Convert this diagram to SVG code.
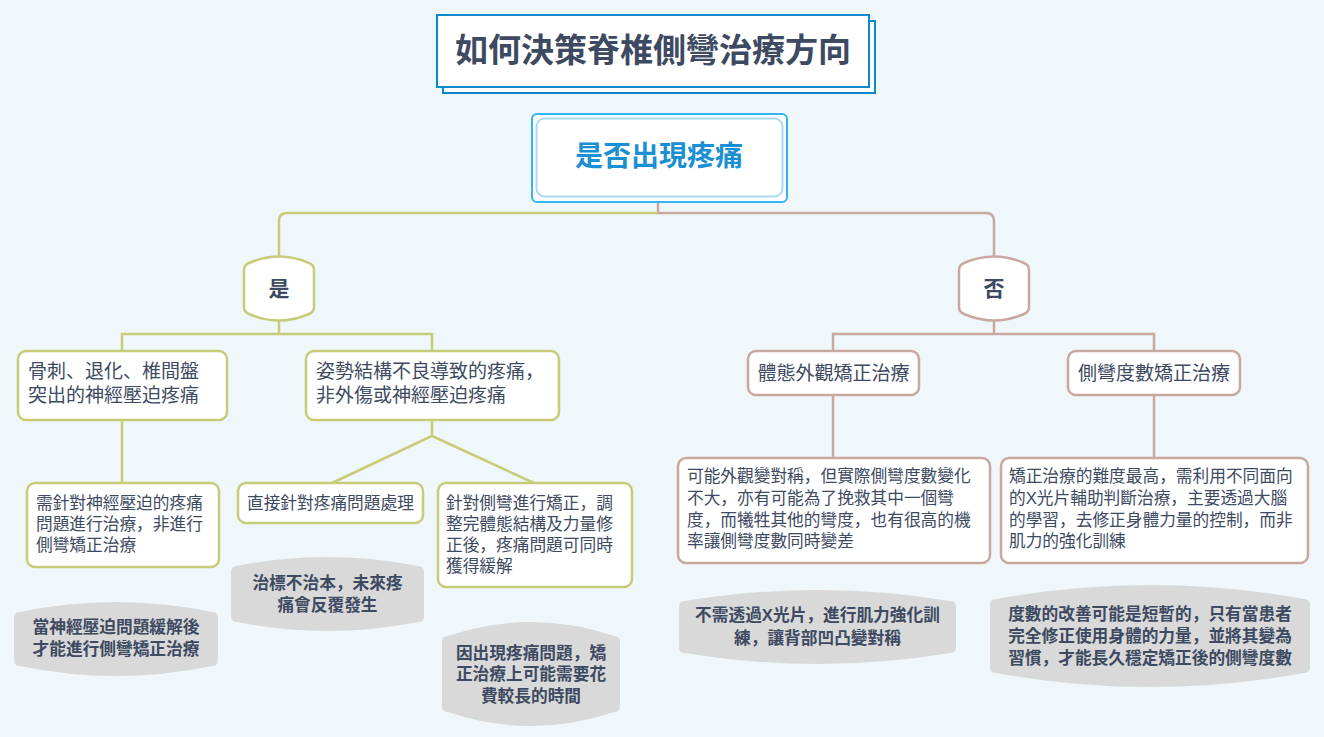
<svg xmlns="http://www.w3.org/2000/svg" width="1324" height="737" viewBox="0 0 1324 737">
<style>
text{font-family:'Liberation Sans','Noto Sans CJK JP','Noto Sans CJK TC',sans-serif;fill:#3d4a62}
.g{fill:none;stroke:#c6cc78;stroke-width:2.5}
.b{fill:none;stroke:#c9a89f;stroke-width:2.5}
.gb{fill:#fff;stroke:#c6cc78;stroke-width:2.5}
.bb{fill:#fff;stroke:#c9a89f;stroke-width:2.5}
.call{fill:#d9d9d9}
.t19{font-size:19px}
.t17{font-size:16.7px}
.cb{font-size:16.7px;font-weight:bold;text-anchor:middle}
.yn{font-size:21px;font-weight:bold;text-anchor:middle}
</style>
<rect width="1324" height="737" fill="#eff7fa"/>
<g id="connectors">
<path class="b" d="M658,202 V213 H986 Q994,213 994,221 V257"/>
<path class="g" d="M658,213 H287 Q279,213 279,221 V257"/>
<path class="g" d="M279,320 V334 M122,351 V334 H432 V351 M122,420 V483 M432,420 V436 L332,483 M432,436 L534,483"/>
<path class="b" d="M994,320 V334 M833,351 V334 H1154 V351 M833,395 V458 M1154,395 V458"/>
</g>
<g id="title">
<rect x="443" y="21" width="432" height="72" fill="#fff" stroke="#0e88d0" stroke-width="2"/>
<rect x="437" y="15" width="432" height="72" fill="#fff" stroke="#0e88d0" stroke-width="2"/>
<text x="653" y="62" font-size="33" font-weight="bold" text-anchor="middle">如何決策脊椎側彎治療方向</text>
</g>
<g id="root">
<rect x="532" y="114" width="255" height="88" rx="5" fill="#fff" stroke="#33b5ef" stroke-width="2"/>
<rect x="536.5" y="118.5" width="246" height="78" rx="8" fill="#fff" stroke="#a6daf2" stroke-width="2"/>
<text x="659" y="166" font-size="28" font-weight="bold" text-anchor="middle" style="fill:#1b8fd3">是否出現疼痛</text>
</g>
<g id="yes">
<path class="gb" d="M244,270 Q244,265 249,263 Q279,250 309,263 Q314,265 314,270 V307 Q314,312 309,314 Q279,327 249,314 Q244,312 244,307 Z"/>
<text x="279" y="296" class="yn">是</text>
</g>
<g id="no">
<path class="bb" d="M959,270 Q959,265 964,263 Q994,250 1024,263 Q1029,265 1029,270 V307 Q1029,312 1024,314 Q994,327 964,314 Q959,312 959,307 Z"/>
<text x="994" y="296" class="yn">否</text>
</g>
<g id="nodeA">
<rect class="gb" x="18" y="351" width="209" height="69" rx="8"/>
<text class="t19" x="28" y="378">骨刺、退化、椎間盤</text>
<text class="t19" x="28" y="402">突出的神經壓迫疼痛</text>
</g>
<g id="nodeB">
<rect class="gb" x="306" y="351" width="253" height="69" rx="8"/>
<text class="t19" x="316" y="378">姿勢結構不良導致的疼痛，</text>
<text class="t19" x="316" y="402">非外傷或神經壓迫疼痛</text>
</g>
<g id="nodeA1">
<rect class="gb" x="27" y="483" width="192" height="84" rx="8"/>
<text class="t17" x="36" y="509">需針對神經壓迫的疼痛</text>
<text class="t17" x="36" y="530">問題進行治療，非進行</text>
<text class="t17" x="36" y="551">側彎矯正治療</text>
</g>
<g id="nodeB1">
<rect class="gb" x="238" y="483" width="185" height="40" rx="8"/>
<text class="t17" x="247" y="509">直接針對疼痛問題處理</text>
</g>
<g id="nodeB2">
<rect class="gb" x="438" y="483" width="194" height="104" rx="8"/>
<text class="t17" x="446" y="509">針對側彎進行矯正，調</text>
<text class="t17" x="446" y="530">整完體態結構及力量修</text>
<text class="t17" x="446" y="551">正後，疼痛問題可同時</text>
<text class="t17" x="446" y="572">獲得緩解</text>
</g>
<g id="nodeC">
<rect class="bb" x="748" y="351" width="171" height="44" rx="8"/>
<text class="t19" x="833.5" y="380" text-anchor="middle">體態外觀矯正治療</text>
</g>
<g id="nodeD">
<rect class="bb" x="1068" y="351" width="172" height="44" rx="8"/>
<text class="t19" x="1154" y="380" text-anchor="middle">側彎度數矯正治療</text>
</g>
<g id="nodeC1">
<rect class="bb" x="678" y="458" width="312" height="105" rx="8"/>
<text class="t17" x="687" y="482">可能外觀變對稱，但實際側彎度數變化</text>
<text class="t17" x="687" y="504">不大，亦有可能為了挽救其中一個彎</text>
<text class="t17" x="687" y="526">度，而犧牲其他的彎度，也有很高的機</text>
<text class="t17" x="687" y="547">率讓側彎度數同時變差</text>
</g>
<g id="nodeD1">
<rect class="bb" x="1001" y="458" width="307" height="105" rx="8"/>
<text class="t17" x="1009" y="482">矯正治療的難度最高，需利用不同面向</text>
<text class="t17" x="1009" y="504">的X光片輔助判斷治療，主要透過大腦</text>
<text class="t17" x="1009" y="526">的學習，去修正身體力量的控制，而非</text>
<text class="t17" x="1009" y="547">肌力的強化訓練</text>
</g>
<g id="noteA">
<path class="call" d="M14,618 Q14,612 20,612 Q116,592 212,612 Q218,612 218,618 V660 Q218,666 212,666 Q116,686 20,666 Q14,666 14,660 Z"/>
<text class="cb" x="116" y="633">當神經壓迫問題緩解後</text>
<text class="cb" x="116" y="655">才能進行側彎矯正治療</text>
</g>
<g id="noteB1">
<path class="call" d="M231,572 Q231,566 237,566 Q327.5,548 418,566 Q424,566 424,572 V616 Q424,622 418,622 Q327.5,640 237,622 Q231,622 231,616 Z"/>
<text class="cb" x="327.5" y="589">治標不治本，未來疼</text>
<text class="cb" x="327.5" y="611">痛會反覆發生</text>
</g>
<g id="noteB2">
<path class="call" d="M442,642 Q442,636 448,636 Q531,608 614,636 Q620,636 620,642 V706 Q620,712 614,712 Q531,740 448,712 Q442,712 442,706 Z"/>
<text class="cb" x="531" y="659">因出現疼痛問題，矯</text>
<text class="cb" x="531" y="680">正治療上可能需要花</text>
<text class="cb" x="531" y="702">費較長的時間</text>
</g>
<g id="noteC">
<path class="call" d="M679,607 Q679,601 685,601 Q817.5,579 950,601 Q956,601 956,607 V647 Q956,653 950,653 Q817.5,675 685,653 Q679,653 679,647 Z"/>
<text class="cb" x="817.5" y="621">不需透過X光片，進行肌力強化訓</text>
<text class="cb" x="817.5" y="644">練，讓背部凹凸變對稱</text>
</g>
<g id="noteD">
<path class="call" d="M990,605 Q990,599 996,599 Q1150,571 1304,599 Q1310,599 1310,605 V667 Q1310,673 1304,673 Q1150,701 996,673 Q990,673 990,667 Z"/>
<text class="cb" x="1150" y="620">度數的改善可能是短暫的，只有當患者</text>
<text class="cb" x="1150" y="642">完全修正使用身體的力量，並將其變為</text>
<text class="cb" x="1150" y="664">習慣，才能長久穩定矯正後的側彎度數</text>
</g>
</svg>
